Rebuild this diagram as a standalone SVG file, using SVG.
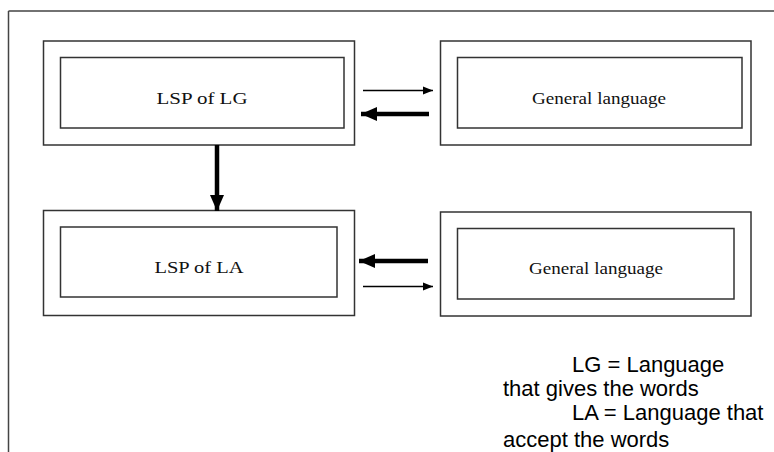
<svg xmlns="http://www.w3.org/2000/svg" width="774" height="452" viewBox="0 0 774 452">
<defs>
<style>
.box{fill:#fff;stroke:#333;stroke-width:1.5}
.lbl{font-family:"Liberation Serif","Times New Roman",serif;font-size:17px;fill:#111;text-anchor:middle}
.leg{font-family:"Liberation Sans",Arial,sans-serif;font-size:22px;fill:#000}
.thin{stroke:#000;stroke-width:1.5;fill:none}
.thick{stroke:#000;stroke-width:4.5;fill:none}
.frame{stroke:#444;stroke-width:1.5;fill:none}
</style>
<marker id="ah" viewBox="0 0 10 10" refX="10" refY="5" markerWidth="10" markerHeight="10" markerUnits="userSpaceOnUse" orient="auto"><path d="M0,1 L10,5 L0,9 Z" fill="#000"/></marker>
<marker id="ahb" viewBox="0 0 16 16" refX="16" refY="8" markerWidth="16" markerHeight="16" markerUnits="userSpaceOnUse" orient="auto"><path d="M0,1 L16,8 L0,15 Z" fill="#000"/></marker>
</defs>
<g id="frame">
<path class="frame" d="M8.5,11 H774 M8.5,11 V452"/>
</g>
<g id="lsp-lg">
<rect class="box" x="43.5" y="41" width="311" height="104"/>
<rect class="box" x="60.5" y="57.5" width="283.5" height="70.5"/>
<text class="lbl" x="202" y="104" textLength="91" lengthAdjust="spacingAndGlyphs">LSP  of LG</text>
</g>
<g id="general-top">
<rect class="box" x="440.5" y="41" width="310.5" height="104"/>
<rect class="box" x="457.5" y="57.5" width="284.5" height="70.5"/>
<text class="lbl" x="599" y="104" textLength="134" lengthAdjust="spacingAndGlyphs">General language</text>
</g>
<g id="lsp-la">
<rect class="box" x="43.5" y="210.5" width="311" height="105"/>
<rect class="box" x="60.5" y="227" width="276.5" height="70"/>
<text class="lbl" x="199" y="273" textLength="89" lengthAdjust="spacingAndGlyphs">LSP  of LA</text>
</g>
<g id="general-bottom">
<rect class="box" x="440.5" y="212" width="310.5" height="104"/>
<rect class="box" x="457.5" y="228.5" width="276.5" height="70.5"/>
<text class="lbl" x="596" y="274" textLength="134" lengthAdjust="spacingAndGlyphs">General language</text>
</g>
<g id="connectors">
<line class="thin" x1="363" y1="90.5" x2="433" y2="90.5" marker-end="url(#ah)"/>
<line class="thick" x1="429" y1="114" x2="361" y2="114" marker-end="url(#ahb)"/>
<line class="thick" x1="217" y1="145" x2="217" y2="211" marker-end="url(#ahb)"/>
<line class="thick" x1="428" y1="261" x2="359" y2="261" marker-end="url(#ahb)"/>
<line class="thin" x1="363" y1="286.5" x2="433" y2="286.5" marker-end="url(#ah)"/>
</g>
<g id="legend">
<text class="leg" x="572" y="372">LG = Language</text>
<text class="leg" x="503" y="396">that gives the words</text>
<text class="leg" x="572" y="420">LA = Language that</text>
<text class="leg" x="503" y="447">accept the words</text>
</g>
</svg>
